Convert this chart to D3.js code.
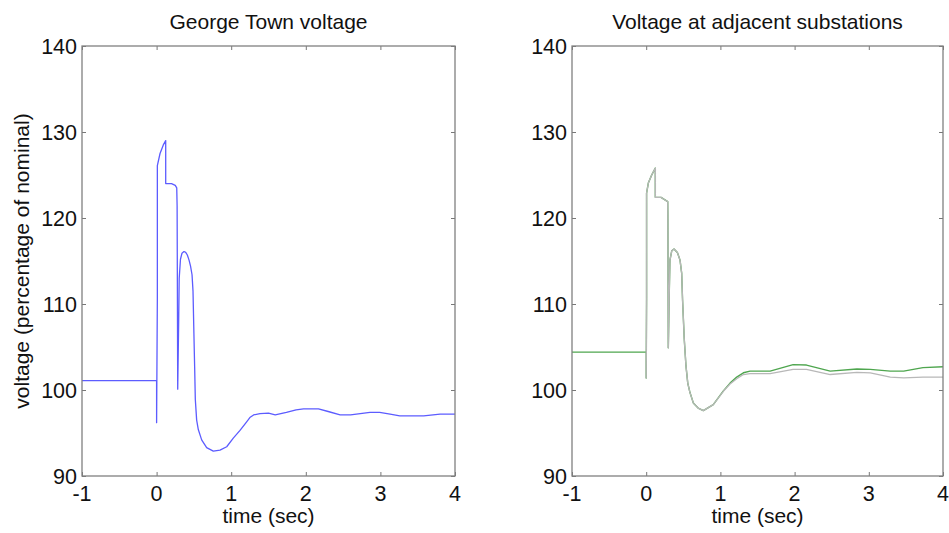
<!DOCTYPE html>
<html>
<head>
<meta charset="utf-8">
<script src="https://cdn.jsdelivr.net/npm/d3@7"></script>
<style>
  body { margin: 0; background: #fff; }
  text { font-family: "Liberation Sans", Arial, sans-serif; fill: #111; }
</style>
</head>
<body>
<div id="container"></div>
<script>
// DATA (time in sec, voltage in % of nominal)
const georgeTown = [
  [-1, 101.1], [0, 101.1], [0, 96.2], [0.01, 110.7], [0.01, 126.1], [0.046, 127.5],
  [0.09, 128.5], [0.122, 129.0], [0.122, 124.0], [0.2, 124.0], [0.25, 123.8], [0.27, 123.5],
  [0.275, 121.4], [0.283, 100.1], [0.296, 108], [0.303, 113], [0.32, 115.2], [0.34, 115.9],
  [0.367, 116.1], [0.39, 116.0], [0.412, 115.7], [0.435, 115.1], [0.455, 114.4], [0.475, 113.4],
  [0.488, 111.5], [0.50, 106.6], [0.51, 102.7], [0.519, 98.9], [0.537, 96.5], [0.559, 95.4],
  [0.604, 94.2], [0.671, 93.3], [0.76, 92.9], [0.85, 93.0], [0.94, 93.4], [1.028, 94.4],
  [1.118, 95.3], [1.207, 96.3], [1.25, 96.8], [1.30, 97.1], [1.386, 97.26], [1.50, 97.3],
  [1.59, 97.1], [1.74, 97.4], [1.87, 97.7], [1.97, 97.8], [2.17, 97.8], [2.30, 97.5],
  [2.46, 97.1], [2.6, 97.1], [2.86, 97.4], [2.99, 97.4], [3.13, 97.2], [3.26, 97.0],
  [3.58, 97.0], [3.80, 97.2], [4.0, 97.2]
];

const adjacentGreen = [
  [-1, 104.4], [0, 104.4], [0, 101.4], [0.005, 110.6], [0.005, 122.9], [0.03, 124.1],
  [0.074, 125.0], [0.123, 125.8], [0.123, 122.4], [0.2, 122.4], [0.253, 122.1], [0.29, 121.9],
  [0.292, 120.3], [0.298, 104.9], [0.31, 111], [0.32, 115.1], [0.345, 116.2], [0.375, 116.4],
  [0.42, 116.0], [0.456, 115.1], [0.478, 113.6], [0.49, 110.5], [0.513, 105.9], [0.536, 102.8],
  [0.56, 100.8], [0.59, 99.7], [0.635, 98.5], [0.70, 97.9], [0.77, 97.6], [0.904, 98.3],
  [1.04, 99.9], [1.13, 100.8], [1.22, 101.5], [1.31, 102.0], [1.40, 102.2], [1.67, 102.2],
  [1.98, 102.95], [2.16, 102.9], [2.48, 102.2], [2.84, 102.45], [3.02, 102.4], [3.29, 102.2],
  [3.47, 102.2], [3.73, 102.6], [4.0, 102.7]
];

const adjacentGray = [
  [0, 104.4], [0, 101.4], [0.005, 110.6], [0.005, 122.9], [0.03, 124.1],
  [0.074, 125.0], [0.123, 125.8], [0.123, 122.4], [0.2, 122.4], [0.253, 122.1], [0.29, 121.9],
  [0.292, 120.3], [0.298, 104.9], [0.31, 111], [0.32, 115.1], [0.345, 116.2], [0.375, 116.4],
  [0.42, 116.0], [0.456, 115.1], [0.478, 113.6], [0.49, 110.5], [0.513, 105.9], [0.536, 102.8],
  [0.56, 100.8], [0.59, 99.7], [0.635, 98.5], [0.70, 97.9], [0.77, 97.6], [0.904, 98.3],
  [1.04, 99.85], [1.13, 100.7], [1.22, 101.3], [1.31, 101.8], [1.40, 101.9], [1.67, 101.9],
  [1.98, 102.4], [2.16, 102.4], [2.48, 101.8], [2.84, 102.05], [3.02, 102.0], [3.29, 101.5],
  [3.47, 101.4], [3.73, 101.5], [4.0, 101.5]
];

const xTicks = [-1, 0, 1, 2, 3, 4];
const yTicks = [90, 100, 110, 120, 130, 140];

const width = 949;
const height = 533;
const plotTop = 46, plotBottom = 476;

const panels = [
  { title: 'George Town voltage', left: 82, right: 455,
    series: [{ data: georgeTown, color: '#5c5cff', w: 1.3 }], ylabel: true },
  { title: 'Voltage at adjacent substations', left: 572, right: 943,
    series: [{ data: adjacentGreen, color: '#4fa64f', w: 1.4 },
             { data: adjacentGray, color: '#b8b8b8', w: 1.3 }], ylabel: false }
];

const svg = d3.select('#container')
  .append('svg')
  .attr('width', width)
  .attr('height', height);

for (const p of panels) {
  const x = d3.scaleLinear([-1, 4], [p.left, p.right]);
  const y = d3.scaleLinear([90, 140], [plotBottom, plotTop]);
  const g = svg.append('g');

  const line = d3.line()
    .x(d => x(d[0]))
    .y(d => y(d[1]));

  for (const s of p.series) {
    g.append('path')
      .datum(s.data)
      .attr('fill', 'none')
      .attr('stroke', s.color)
      .attr('stroke-width', s.w)
      .attr('stroke-linejoin', 'round')
      .attr('d', line);
  }

  // frame + inward ticks on all sides
  const tickLen = 4;
  const axisStyle = a => a.call(sel => sel.select('.domain').remove())
    .call(sel => sel.selectAll('.tick line').attr('stroke', '#777'))
    .call(sel => sel.selectAll('text').remove());

  g.append('g').attr('transform', `translate(0,${plotBottom})`)
    .call(d3.axisTop(x).tickValues(xTicks).tickSize(tickLen)).call(axisStyle);
  g.append('g').attr('transform', `translate(0,${plotTop})`)
    .call(d3.axisBottom(x).tickValues(xTicks).tickSize(tickLen)).call(axisStyle);
  g.append('g').attr('transform', `translate(${p.left},0)`)
    .call(d3.axisRight(y).tickValues(yTicks).tickSize(tickLen)).call(axisStyle);
  g.append('g').attr('transform', `translate(${p.right},0)`)
    .call(d3.axisLeft(y).tickValues(yTicks).tickSize(tickLen)).call(axisStyle);

  g.append('rect')
    .attr('x', p.left).attr('y', plotTop)
    .attr('width', p.right - p.left).attr('height', plotBottom - plotTop)
    .attr('fill', 'none')
    .attr('stroke', '#808080')
    .attr('stroke-width', 1.3);

  // tick labels
  g.selectAll('.xl').data(xTicks).join('text')
    .attr('x', d => x(d))
    .attr('y', 501)
    .attr('text-anchor', 'middle')
    .style('font-size', '21.5px')
    .text(d => d);

  g.selectAll('.yl').data(yTicks).join('text')
    .attr('x', p.left - 5)
    .attr('y', d => y(d) + 7.5)
    .attr('text-anchor', 'end')
    .style('font-size', '21.5px')
    .text(d => d);

  g.append('text')
    .attr('x', (p.left + p.right) / 2)
    .attr('y', 523)
    .attr('text-anchor', 'middle')
    .style('font-size', '21px')
    .text('time (sec)');

  g.append('text')
    .attr('x', (p.left + p.right) / 2)
    .attr('y', 29)
    .attr('text-anchor', 'middle')
    .style('font-size', '21px')
    .text(p.title);

  if (p.ylabel) {
    g.append('text')
      .attr('transform', `translate(29,${(plotTop + plotBottom) / 2}) rotate(-90)`)
      .attr('text-anchor', 'middle')
      .style('font-size', '21px')
      .text('voltage (percentage of nominal)');
  }
}
</script>
</body>
</html>
